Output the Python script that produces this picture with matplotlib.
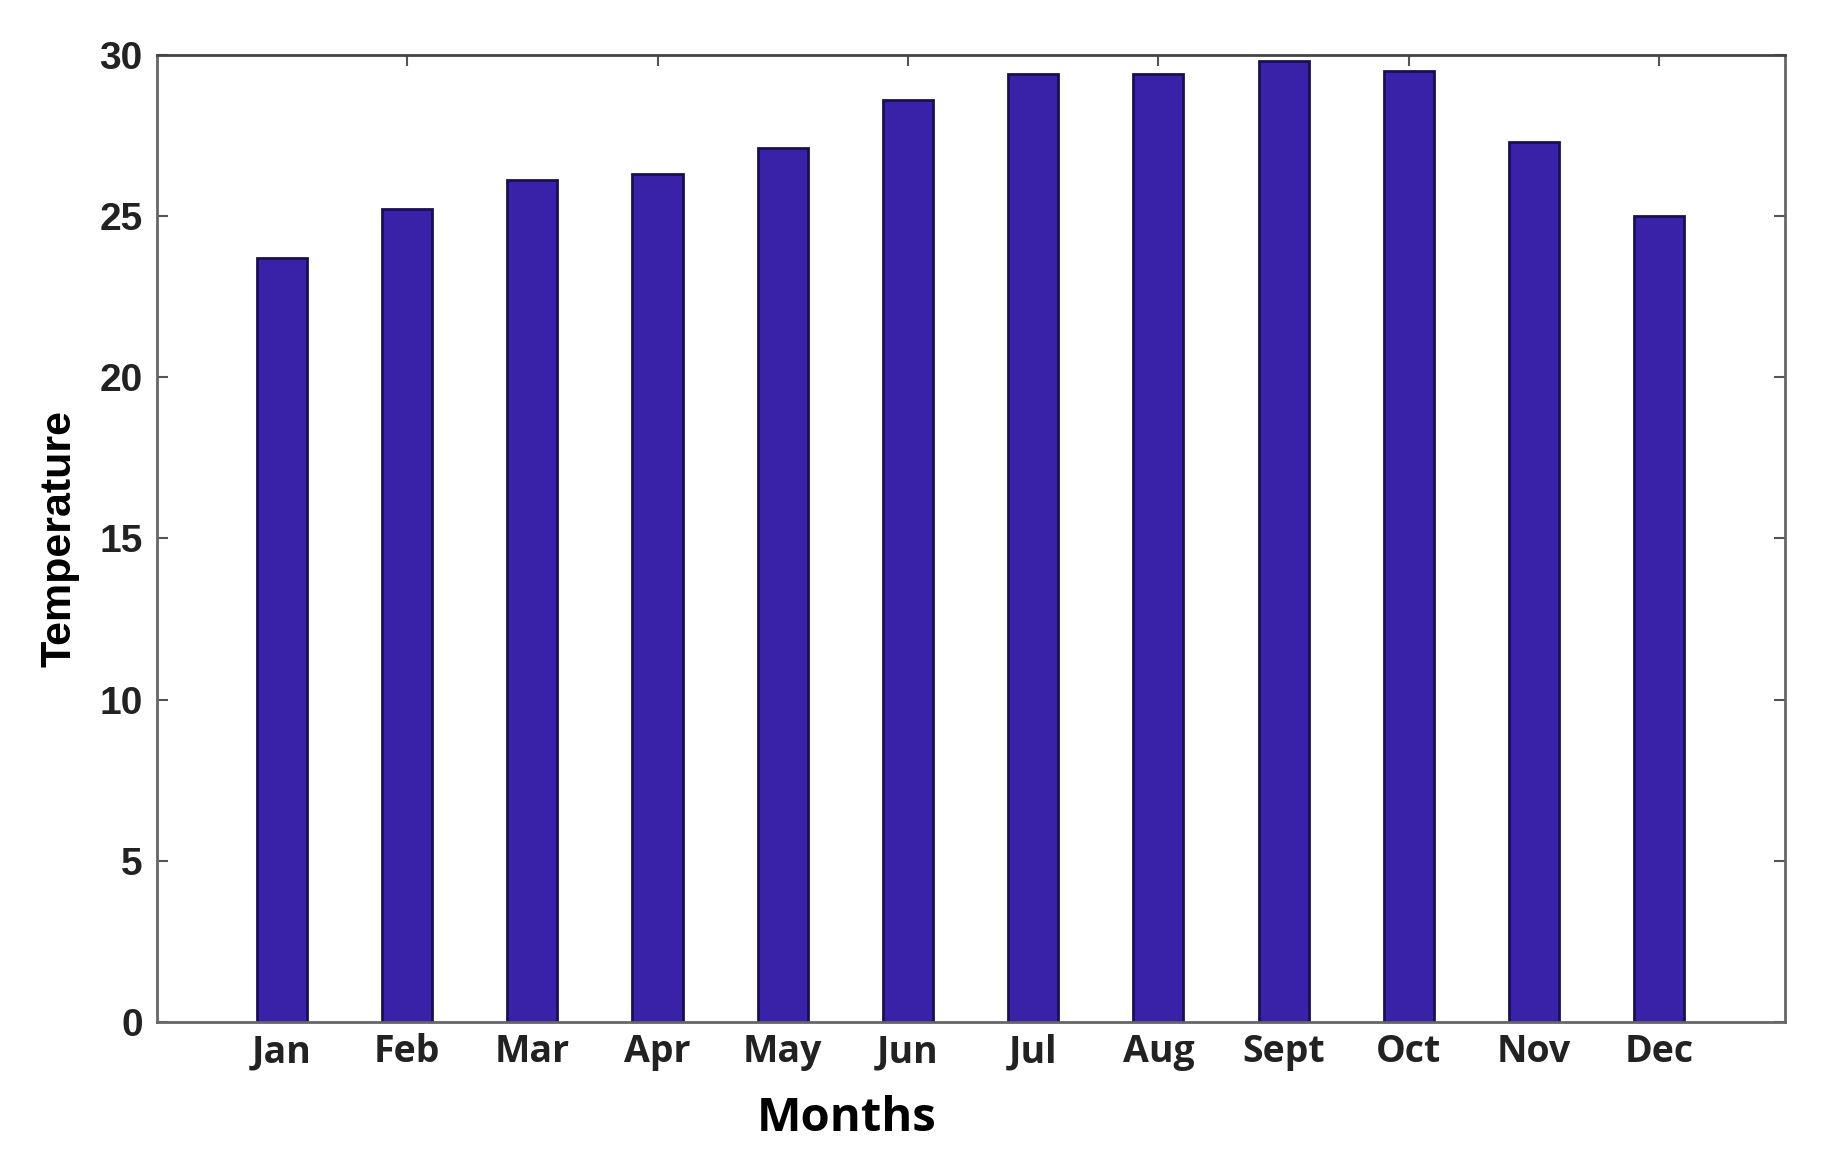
import numpy as np
import matplotlib
matplotlib.use("Agg")
import matplotlib.pyplot as plt

# monthly temperature values
months = ["Jan", "Feb", "Mar", "Apr", "May", "Jun",
          "Jul", "Aug", "Sept", "Oct", "Nov", "Dec"]
temps = [23.7, 25.2, 26.1, 26.3, 27.1, 28.6,
         29.4, 29.4, 29.8, 29.5, 27.3, 25.0]
y_ticks = [0, 5, 10, 15, 20, 25, 30]

fig = plt.figure(figsize=(18.21, 11.64), dpi=100)
ax = fig.add_axes([0.086, 0.122, 0.894, 0.831])

x = np.arange(1, len(months) + 1)
ax.bar(x, temps, width=0.4, color="#3a22a8", edgecolor="#1a0f55", linewidth=2)

ax.set_xlim(0, 13)
ax.set_ylim(0, 30)
ax.set_yticks(y_ticks)
ax.set_yticklabels([str(v) for v in y_ticks], fontsize=28, fontweight="bold",
                   family="Liberation Sans", color="#222222")
ax.set_xticks(x)
ax.set_xticklabels(months, fontsize=27, fontweight="bold", family="Open Sans",
                   color="#222222")
ax.tick_params(axis="x", length=0, pad=8)
ax.tick_params(axis="y", direction="in", right=True, length=8, width=1.5,
               color="#555555", pad=10)

# matlab-style mirrored ticks along the top edge
top = ax.secondary_xaxis("top")
top.set_xticks(x[1::2])
top.set_xticklabels([])
top.tick_params(direction="in", length=8, width=1.5, color="#555555")
for sp in top.spines.values():
    sp.set_visible(False)

for name, sp in ax.spines.items():
    sp.set_linewidth(2)
    sp.set_color("#666666")
ax.spines["top"].set_color("#444444")

ax.set_xlabel("Months", fontsize=34, fontweight="bold", family="Open Sans")
ax.xaxis.set_label_coords(0.424, -0.075)
ax.set_ylabel("Temperature", fontsize=31, fontweight="semibold",
              family="Liberation Sans", labelpad=14)

fig.savefig("out.png", dpi=100)
